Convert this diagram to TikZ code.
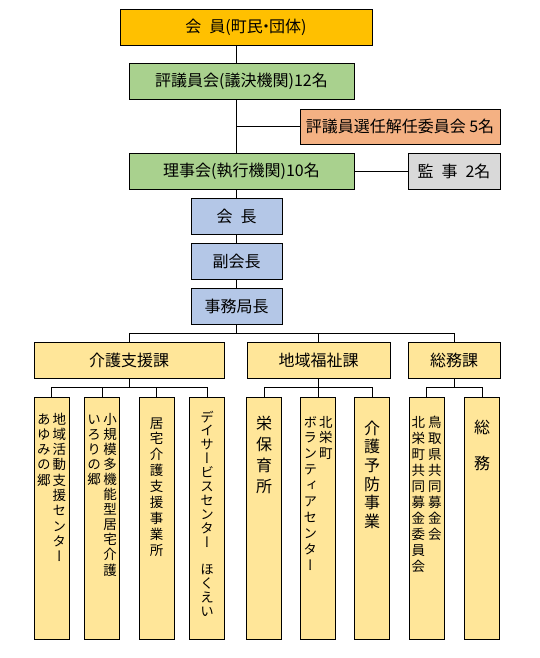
\documentclass[tikz,border=0pt]{standalone}
\usepackage{fontspec}
\setmainfont{Noto Sans CJK JP}
\newfontfamily\tatefont{Noto Sans CJK JP}[RawFeature=+vert]
\usepackage{xcolor}
\usepackage{tikz}
\usetikzlibrary{positioning,calc}
\definecolor{kaiinorange}{HTML}{FFC000}
\definecolor{giingreen}{HTML}{A9D18E}
\definecolor{seninsalmon}{HTML}{F4B183}
\definecolor{kansagray}{HTML}{D9D9D9}
\definecolor{kaichoblue}{HTML}{B4C7E7}
\definecolor{kayellow}{HTML}{FFE699}

% one character per line, top to bottom
\newcommand\tatechar[1]{\hbox to 1em{\hss#1\hss}}
\def\tateloop#1{\ifx#1\relax\else\tatechar{#1}\expandafter\tateloop\fi}
\newcommand\tate[1]{\vtop{\lineskiplimit=-\maxdimen\tateloop#1\relax}}

\begin{document}
\begin{tikzpicture}[
    x=1pt,y=-1pt,
    box/.style  = {rectangle,draw=black,line width=0.9pt,inner sep=0pt,
                   minimum height=36pt,font=\fontsize{16}{19}\selectfont},
    sub/.style  = {rectangle,draw=black,line width=0.9pt,fill=kayellow,inner sep=0pt,
                   minimum width=35pt,minimum height=242pt},
    tt/.style 2 args = {inner sep=0pt,anchor=base,font=\tatefont\fontsize{#1}{#2}\selectfont},
    ln/.style   = {black,line width=0.9pt},
  ]

  \fill[white] (0,0) rectangle (539,658);
  \useasboundingbox (0,0) rectangle (539,658);

  \node[box,fill=kaiinorange,minimum width=252pt] (kaiin)  at (246,27)    {会\enspace 員(町民\kern-0.3em・\kern-0.3em団体)};
  \node[box,fill=giingreen,minimum width=225pt]   (hyogi)  at (241.5,81)  {評議員会(議決機関)12名};
  \node[box,fill=seninsalmon,minimum width=200pt,minimum height=35pt] (senin) at (400,126.5) {評議員選任解任委員会 5名};
  \node[box,fill=giingreen,minimum width=225pt]   (riji)   at (241.5,171) {理事会(執行機関)10名};
  \node[box,fill=kansagray,minimum width=92pt]    (kansa)  at (454,171)   {監\enspace 事\enspace 2名};
  \node[box,fill=kaichoblue,minimum width=91pt]   (kaicho) at (236.5,216) {会\enspace 長};
  \node[box,fill=kaichoblue,minimum width=91pt]   (fuku)   at (236.5,261) {副会長};
  \node[box,fill=kaichoblue,minimum width=91pt]   (jimu)   at (236.5,306) {事務局長};

  \node[box,fill=kayellow,minimum width=190pt] (kaigo)  at (129,360)   {介護支援課};
  \node[box,fill=kayellow,minimum width=143pt] (chiiki) at (318.5,360) {地域福祉課};
  \node[box,fill=kayellow,minimum width=92pt]  (somu)   at (454,360)   {総務課};

  \node[sub] (k1) at (51.5,518)  {};
  \node[sub] (k2) at (102,518)   {};
  \node[sub] (k3) at (156.5,518) {};
  \node[sub] (k4) at (207,518)   {};
  \node[sub] (c1) at (264,518)   {};
  \node[sub] (c2) at (318,518)   {};
  \node[sub] (c3) at (372,518)   {};
  \node[sub] (s1) at (426.5,518) {};
  \node[sub] (s2) at (482,518)   {};

  \node[tt={13.5}{15.3}] (t1) at (51.5,424)  {\tate{あゆみの郷}\kern2pt\tate{地域活動支援センター}};
  \node[tt={13.5}{15.1}] (t2) at (102,424)   {\tate{いろりの郷}\kern2.5pt\tate{小規模多機能型居宅介護}};
  \node[tt={13.5}{15.9}] (t3) at (156.5,428) {\tate{居宅介護支援事業所}};
  \node[tt={13.5}{13.9}] (t4) at (207,422)   {\tate{デイサービスセンター　ほくえい}};
  \node[tt={16}{21}]     (t5) at (264,429)   {\tate{栄保育所}};
  \node[tt={13.5}{15.9}] (t6) at (318,427)   {\tate{ボランティアセンター}\kern2pt\tate{北栄町}};
  \node[tt={16}{18.7}]   (t7) at (372,434)   {\tate{介護予防事業}};
  \node[tt={13.5}{16}]   (t8) at (426.5,427) {\tate{北栄町共同募金委員会}\kern3pt\tate{鳥取県共同募金会}};
  \node[tt={16}{18}]     (t9) at (482,433)   {\tate{総　務}};

  \draw[ln] (kaiin.south -| kaicho) -- (hyogi.north -| kaicho);
  \draw[ln] (hyogi.south -| kaicho) -- (riji.north -| kaicho);
  \draw[ln] (senin.west -| kaicho) -- (senin.west);
  \draw[ln] (riji.east) -- (kansa.west);
  \draw[ln] (riji.south -| kaicho) -- (kaicho.north);
  \draw[ln] (kaicho.south) -- (fuku.north);
  \draw[ln] (fuku.south) -- (jimu.north);
  \foreach \n in {kaigo,chiiki,somu}
    \draw[ln] (jimu.south) -- ++(0,9) -| (\n.north);
  \foreach \n in {k1,k2,k3,k4}
    \draw[ln] (kaigo.south) -- ++(0,9) -| (\n.north);
  \foreach \n in {c1,c2,c3}
    \draw[ln] (chiiki.south) -- ++(0,9) -| (\n.north);
  \foreach \n in {s1,s2}
    \draw[ln] (somu.south) -- ++(0,9) -| (\n.north);

\end{tikzpicture}
\end{document}
